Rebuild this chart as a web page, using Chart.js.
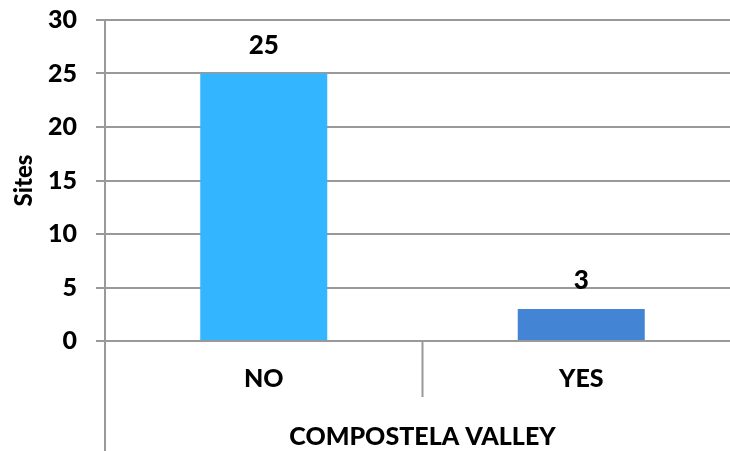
<!DOCTYPE html>
<html>
<head>
<meta charset="utf-8">
<script src="https://cdn.jsdelivr.net/npm/chart.js@4"></script>
<style>
  html, body { margin: 0; padding: 0; background: #fff; overflow: hidden; }
  #wrap { width: 745px; height: 451px; }
</style>
</head>
<body>
<div id="wrap"><canvas id="chart" width="745" height="451"></canvas></div>
<script>
const categories = ["NO", "YES"];
const siteCounts = [25, 3];
const barColors = ["#33B5FF", "#4484D4"];
const groupLabel = "COMPOSTELA VALLEY";
const yTitle = "Sites";

const FONT = "Lato, 'Open Sans', sans-serif";
const WEIGHT = "900";
const GRID = "#999999";

// etiquetas de valor encima de cada barra + líneas del eje por debajo del área
const extrasPlugin = {
    id: "extras",
    afterDatasetsDraw(chart) {
        const ctx = chart.ctx;
        const meta = chart.getDatasetMeta(0);
        ctx.save();
        ctx.fillStyle = "#000";
        ctx.font = WEIGHT + " 26px " + FONT;
        ctx.textAlign = "center";
        ctx.textBaseline = "alphabetic";
        meta.data.forEach((bar, i) => {
            ctx.fillText(siteCounts[i], bar.x, bar.y - 20);
        });
        ctx.restore();
    },
    afterDraw(chart) {
        const ctx = chart.ctx;
        const area = chart.chartArea;
        const x = chart.scales.x;
        ctx.save();
        ctx.strokeStyle = GRID;
        ctx.lineWidth = 2;
        // eje vertical que sigue hacia abajo
        ctx.beginPath();
        ctx.moveTo(area.left, area.bottom);
        ctx.lineTo(area.left, chart.height);
        ctx.stroke();
        // separador entre categorías
        const sep = (x.getPixelForValue(0) + x.getPixelForValue(1)) / 2;
        ctx.beginPath();
        ctx.moveTo(sep, area.bottom);
        ctx.lineTo(sep, area.bottom + 56);
        ctx.stroke();
        // etiqueta del grupo
        ctx.fillStyle = "#000";
        ctx.font = WEIGHT + " 25px " + FONT;
        ctx.textAlign = "center";
        ctx.textBaseline = "alphabetic";
        ctx.fillText(groupLabel, (area.left + area.right) / 2, 445);
        ctx.restore();
    }
};

new Chart(document.getElementById("chart"), {
    type: "bar",
    data: {
        labels: categories,
        datasets: [{
            data: siteCounts,
            backgroundColor: barColors,
            borderWidth: 0,
            barPercentage: 0.4,
            categoryPercentage: 1
        }]
    },
    options: {
        responsive: false,
        animation: false,
        devicePixelRatio: 1,
        layout: { padding: { top: 20, right: 5, left: 0, bottom: 0 } },
        plugins: { legend: { display: false }, tooltip: { enabled: false } },
        scales: {
            x: {
                afterFit(scale) { scale.height = 110; scale.paddingLeft = 0; scale.paddingRight = 0; },
                grid: { display: false, drawTicks: false },
                border: { display: false },
                ticks: {
                    padding: 23,
                    color: "#000",
                    font: { family: FONT, size: 25, weight: WEIGHT }
                }
            },
            y: {
                min: 0,
                max: 30,
                afterFit(scale) { scale.width = 105; scale.paddingTop = 0; scale.paddingBottom = 0; },
                ticks: {
                    stepSize: 5,
                    padding: 19,
                    color: "#000",
                    font: { family: FONT, size: 25, weight: WEIGHT }
                },
                grid: { color: GRID, lineWidth: 2, tickLength: 9 },
                border: { color: GRID, width: 2 },
                title: {
                    display: true,
                    text: yTitle,
                    color: "#000",
                    padding: 10,
                    font: { family: FONT, size: 24, weight: WEIGHT }
                }
            }
        }
    },
    plugins: [extrasPlugin]
});
</script>
</body>
</html>
